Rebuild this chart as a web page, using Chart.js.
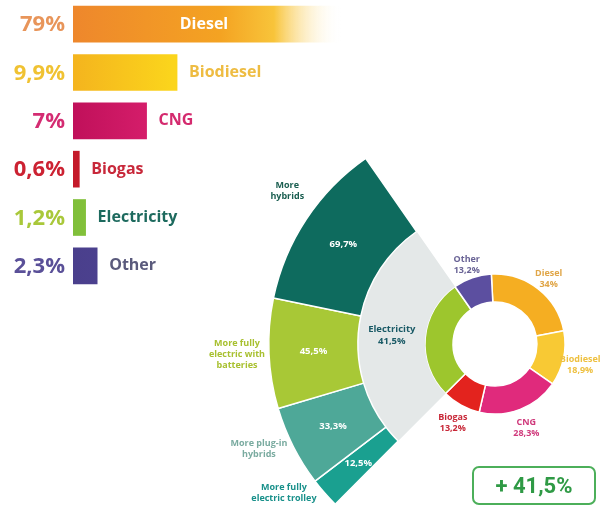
<!DOCTYPE html>
<html>
<head>
<meta charset="utf-8">
<script src="https://cdn.jsdelivr.net/npm/chart.js"></script>
<style>
  html, body { margin: 0; padding: 0; background: #fff; }
  body { position: relative; width: 605px; height: 509px; overflow: hidden; font-family: 'Open Sans', sans-serif; }
  canvas { position: absolute; }
  #shareChart { left: 0; top: 0; }
  #growthChart { left: 180px; top: 110px; }
  #totalBox {
    position: absolute; left: 472px; top: 466px; width: 124px; height: 39px;
    border: 2px solid #4caf5a; border-radius: 7px; box-sizing: border-box;
    color: #2f9a45; font: 700 22px Roboto, sans-serif; text-align: center; line-height: 35px;
  }
</style>
</head>
<body>
<canvas id="shareChart" width="360" height="290"></canvas>
<canvas id="growthChart" width="542" height="461"></canvas>
<div id="totalBox"></div>
<script>
// fleet share by fuel (bars, top left)
const fuelLabels = ['Diesel', 'Biodiesel', 'CNG', 'Biogas', 'Electricity', 'Other'];
const fleetShare = [79, 9.9, 7, 0.6, 1.2, 2.3];

// growth by fuel (doughnut)
const growth = [34, 18.9, 28.3, 13.2, 41.5, 13.2];

// breakdown of electricity growth (fan), bottom to top
const electricLabels = ['More fully\nelectric trolley', 'More plug-in\nhybrids', 'More fully\nelectric with\nbatteries', 'More\nhybrids'];
const electricValues = [12.5, 33.3, 45.5, 69.7];

// colours
const shareValueColors = ['#e8955a', '#f0c232', '#d42c72', '#cc2232', '#a9c83a', '#5a5098'];
const shareNameColors = ['#ffffff', '#eebc42', '#d42a6e', '#c8283a', '#1d6a5e', '#5a5a7c'];
const shareBarColors = [['#ee892c', '#f5a823'], ['#f4b41e', '#fbd51c'], ['#c0105a', '#dc2270'], ['#c41a2a', '#c41a2a'], ['#7fbf3a', '#9ccc3a'], ['#4a3f8c', '#4e4594']];
const growthColors = ['#f5ae22', '#f8c934', '#e02a7c', '#e3231e', '#9dc62d', '#5c4fa0'];
const growthTextColors = ['#e0a648', '#eec040', '#d03a7c', '#c82838', '#1a5a66', '#6a6496'];
const electricColors = ['#1aa090', '#4ea898', '#a8c836', '#0e6b5e'];
const electricTextColors = ['#18908a', '#7aaba0', '#a8c030', '#1a5e50'];
// small angle nudges (degrees) for the labels outside the fan
const electricLabelShift = [6, 3, 0, 3];

function pct(v) {
  return String(v).replace('.', ',') + '%';
}

function drawLines(ctx, lines, x, y, lineHeight) {
  const top = y - (lines.length - 1) * lineHeight / 2;
  lines.forEach(function (line, i) {
    ctx.fillText(line, x, top + i * lineHeight);
  });
}

const shareLabelsPlugin = {
  id: 'shareLabels',
  afterDatasetsDraw(chart) {
    const ctx = chart.ctx;
    const area = chart.chartArea;
    const bars = chart.getDatasetMeta(0).data;
    ctx.save();
    ctx.textBaseline = 'middle';
    bars.forEach(function (bar, i) {
      ctx.font = '700 22px "Open Sans"';
      ctx.textAlign = 'right';
      ctx.fillStyle = shareValueColors[i];
      ctx.fillText(pct(fleetShare[i]), bar.base - 8, bar.y + 1);

      ctx.font = '700 16px "Open Sans"';
      ctx.fillStyle = shareNameColors[i];
      if (i === 0) {
        ctx.textAlign = 'center';
        ctx.fillText(fuelLabels[i], bar.base + 131, bar.y);
      } else {
        ctx.textAlign = 'left';
        ctx.fillText(fuelLabels[i], Math.min(bar.x, area.right) + 12, bar.y);
      }
    });
    ctx.restore();
  }
};

new Chart(document.getElementById('shareChart'), {
  type: 'bar',
  data: {
    labels: fuelLabels,
    datasets: [{
      data: fleetShare,
      barThickness: 36,
      backgroundColor: function (context) {
        const chart = context.chart;
        const area = chart.chartArea;
        const i = context.dataIndex;
        if (!area) return shareBarColors[i][0];
        if (i === 0) {
          // diesel runs off the scale, fade it out
          const g = chart.ctx.createLinearGradient(area.left, 0, area.left + 268, 0);
          g.addColorStop(0, '#ee872c');
          g.addColorStop(0.55, '#f4a322');
          g.addColorStop(0.75, '#f8c43a');
          g.addColorStop(1, 'rgba(255,255,255,0)');
          return g;
        }
        const g = chart.ctx.createLinearGradient(area.left, 0, area.left + 100, 0);
        g.addColorStop(0, shareBarColors[i][0]);
        g.addColorStop(1, shareBarColors[i][1]);
        return g;
      }
    }]
  },
  options: {
    indexAxis: 'y',
    responsive: false,
    animation: false,
    events: [],
    layout: { padding: { left: 73, top: 0, right: 0, bottom: 0 } },
    scales: {
      x: { display: false, min: 0, max: 27.3 },
      y: { display: false }
    },
    plugins: { legend: { display: false }, tooltip: { enabled: false } }
  },
  plugins: [shareLabelsPlugin]
});

// electricity slice position in the doughnut
const growthTotal = growth.reduce((a, b) => a + b, 0);
const growthStart = -3;
const elecIdx = fuelLabels.indexOf('Electricity');
const beforeElec = growth.slice(0, elecIdx).reduce((a, b) => a + b, 0);
const elecRotation = growthStart + 360 * beforeElec / growthTotal;
const elecSweep = 360 * growth[elecIdx] / growthTotal;

const growthLabelsPlugin = {
  id: 'growthLabels',
  afterDatasetsDraw(chart) {
    const ctx = chart.ctx;
    ctx.save();
    ctx.textAlign = 'center';
    ctx.textBaseline = 'middle';

    // fan segments
    chart.getDatasetMeta(0).data.forEach(function (arc, i) {
      const mid = (arc.startAngle + arc.endAngle) / 2;
      const r = (arc.innerRadius + arc.outerRadius) / 2;
      ctx.font = '700 9.5px "Open Sans"';
      ctx.fillStyle = '#ffffff';
      ctx.fillText(pct(electricValues[i]), arc.x + Math.cos(mid) * r, arc.y + Math.sin(mid) * r);
      const a = mid + electricLabelShift[i] * Math.PI / 180;
      const ro = arc.outerRadius + 32;
      ctx.font = '700 9px "Open Sans"';
      ctx.fillStyle = electricTextColors[i];
      drawLines(ctx, electricLabels[i].split('\n'), arc.x + Math.cos(a) * ro, arc.y + Math.sin(a) * ro, 11);
    });

    // grey electricity wedge
    chart.getDatasetMeta(1).data.forEach(function (arc) {
      const mid = (arc.startAngle + arc.endAngle) / 2;
      const r = (arc.innerRadius + arc.outerRadius) / 2;
      ctx.font = '700 9.5px "Open Sans"';
      ctx.fillStyle = growthTextColors[elecIdx];
      drawLines(ctx, [fuelLabels[elecIdx], pct(growth[elecIdx])], arc.x + Math.cos(mid) * r, arc.y + Math.sin(mid) * r, 12);
    });

    // doughnut labels
    chart.getDatasetMeta(2).data.forEach(function (arc, i) {
      if (i === elecIdx) return;
      const mid = (arc.startAngle + arc.endAngle) / 2;
      const r = arc.outerRadius + 17;
      ctx.font = '700 9px "Open Sans"';
      ctx.fillStyle = growthTextColors[i];
      drawLines(ctx, [fuelLabels[i], pct(growth[i])], arc.x + Math.cos(mid) * r, arc.y + Math.sin(mid) * r + 3, 11);
    });
    ctx.restore();
  }
};

new Chart(document.getElementById('growthChart'), {
  type: 'doughnut',
  data: {
    labels: fuelLabels,
    datasets: [
      {
        data: electricValues,
        backgroundColor: electricColors,
        borderColor: '#ffffff',
        borderWidth: 1.5,
        rotation: elecRotation,
        circumference: elecSweep,
        weight: 89
      },
      {
        data: [growth[elecIdx]],
        backgroundColor: '#e4e8e8',
        borderWidth: 0,
        rotation: elecRotation,
        circumference: elecSweep,
        weight: 67
      },
      {
        data: growth,
        backgroundColor: growthColors,
        borderColor: '#ffffff',
        borderWidth: 1.5,
        rotation: growthStart,
        circumference: 360,
        weight: 28
      }
    ]
  },
  options: {
    responsive: false,
    animation: false,
    events: [],
    cutout: 42,
    layout: { padding: { left: 88, top: 7, right: 0, bottom: 0 } },
    plugins: { legend: { display: false }, tooltip: { enabled: false } }
  },
  plugins: [growthLabelsPlugin]
});

document.getElementById('totalBox').textContent = '+ ' + pct(growth[elecIdx]);
</script>
</body>
</html>
